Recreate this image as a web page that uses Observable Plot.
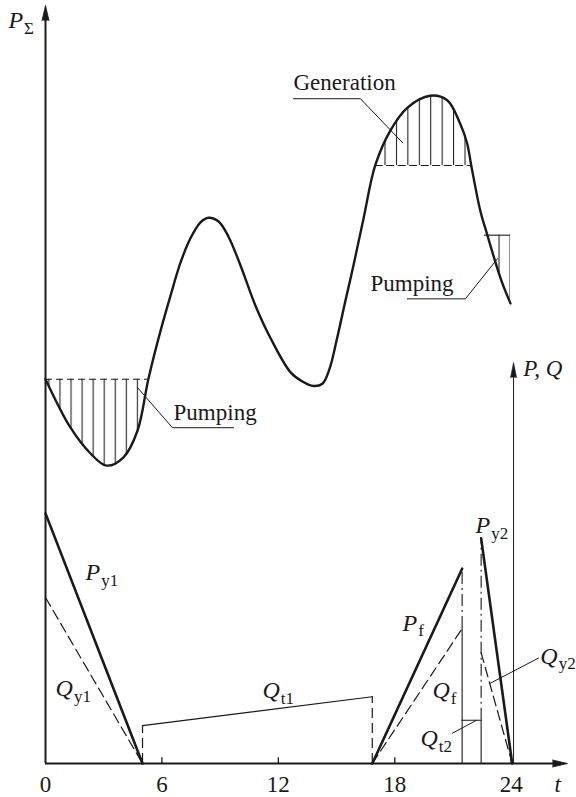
<!DOCTYPE html>
<html>
<head>
<meta charset="utf-8">
<script src="https://cdn.jsdelivr.net/npm/d3@7"></script>
<script src="https://cdn.jsdelivr.net/npm/@observablehq/plot@0.6"></script>
<style>
  html, body { margin: 0; padding: 0; background: #fff; }
  #chart svg { display: block; }
  #chart svg text { font-family: "Liberation Serif", "Times New Roman", serif; }
</style>
</head>
<body>
<div id="chart"></div>
<script>
// Hours of the day shown on the time axis
const hourTicks = [0, 6, 12, 18, 24];

// Total system load P_Σ over the day (hour, relative power)
const demandT = [0, 1.29, 2.32, 3.14, 4.02, 4.74, 5.30, 5.93, 6.44, 6.96, 7.47, 7.99, 8.40, 8.92, 9.43, 10.05, 10.82, 11.60, 12.63, 13.24, 13.81, 14.27, 14.64, 15.00, 15.46, 15.87, 16.39, 16.99, 17.77, 18.64, 19.82, 20.70, 21.37, 21.73, 21.94, 22.40, 22.77, 23.19, 23.55, 23.96];
const demandP = [50.7, 44.3, 40.9, 39.3, 40.4, 43.9, 50.7, 57.1, 61.7, 66.1, 69.3, 71.4, 72.0, 71.5, 69.5, 65.7, 60.4, 56.1, 51.6, 50.4, 49.8, 50.1, 52.1, 55.8, 61.1, 65.7, 71.9, 78.9, 83.5, 86.5, 88.1, 87.5, 84.4, 81.8, 78.9, 73.0, 69.7, 66.1, 63.3, 60.7];

// Storage operating zones: level and hour interval
const zoneKind = ["Pumping", "Generation", "Pumping"];
const zoneLevel = [50.7, 78.9, 69.7];
const zoneFrom = [0, 16.99, 22.77];
const zoneTo = [5.30, 21.94, 23.96];

// Station power P and flow Q schedules (hour, value)
const Py1 = [[0, 33.0], [5, 0]];
const Qy1 = [[0, 21.9], [5, 0]];
const Qt1 = [[5, 5.0], [16.84, 8.8]];
const Pf = [[16.84, 0], [21.47, 25.7]];
const Qf = [[16.84, 0], [21.47, 17.8]];
const Qt2 = [[21.47, 5.7], [22.45, 5.7]];
const Py2 = [[22.45, 29.7], [24.05, 0]];
const Qy2 = [[22.45, 14.6], [24.05, 0]];

// Symbol labels ("main|subscript") and their anchor points
const symbolText = ["P|Σ", "P|y1", "Q|y1", "Q|t1", "P|f", "Q|f", "Q|t2", "P|y2", "Q|y2"];
const symbolT = [-1.91, 2.06, 0.52, 11.18, 18.40, 19.94, 19.32, 22.16, 25.50];
const symbolV = [98.0, 25.2, 9.9, 9.6, 18.5, 9.6, 3.3, 31.4, 14.2];

// Annotation notes with their leader lines
const noteText = ["Generation", "Pumping", "Pumping"];
const noteT = [12.78, 16.75, 6.60];
const noteV = [89.8, 63.3, 46.3];
const leaderGeneration = [[12.78, 87.7], [16.23, 87.7], [18.40, 81.9]];
const leaderPumpEvening = [[18.65, 61.3], [21.64, 61.3], [23.29, 66.6]];
const leaderPumpNight = [[4.74, 49.6], [6.54, 44.3], [9.69, 44.3]];
const leaderQt2 = [[20.97, 4.0], [22.21, 5.7]];
const leaderQy2 = [[25.40, 13.9], [22.93, 10.6]];

// Axis extents
const timeAxisEnd = 26.9;
const powerAxisTop = 100;
const pqAxisT = 24.12;
const pqAxisTop = 52.9;

const demand = demandT.map((t, i) => ({t, p: demandP[i]}));
const zones = zoneKind.map((kind, i) => ({kind, level: zoneLevel[i], from: zoneFrom[i], to: zoneTo[i], id: `hatch${i}`}));
const pts = (arr) => arr.map(([t, v]) => ({t, v}));
const ink = "#1a1a1a";
const serif = "Liberation Serif, Times New Roman, serif";
const txt = {fill: ink, fontFamily: serif};

const seg = (arr, o) => Plot.line(pts(arr), {x: "t", y: "v", stroke: ink, ...o});
const thick = {strokeWidth: 2.6};
const dashed = {strokeWidth: 1.2, strokeDasharray: "10,5"};
const thin = {strokeWidth: 1.1};
const dashDot = {strokeWidth: 1.1, strokeDasharray: "12,4,2,4"};

const marks = [];

// Hatched storage zones between the load curve and each operating level
zones.forEach((z) => {
  const sub = demand.filter((d) => d.t >= z.from - 1e-9 && d.t <= z.to + 1e-9);
  marks.push(Plot.areaY(sub, {x: "t", y1: () => z.level, y2: "p", curve: "catmull-rom", fill: `url(#${z.id})`}));
});
marks.push(Plot.ruleY([zones[0]], {y: "level", x1: "from", x2: "to", stroke: ink, strokeWidth: 1.1, strokeDasharray: "7,4"}));
marks.push(Plot.ruleY([zones[1]], {y: "level", x1: "from", x2: "to", stroke: ink, strokeWidth: 1.1, strokeDasharray: "8,3.5"}));
marks.push(Plot.ruleY([zones[2]], {y: "level", x1: (d) => d.from - 0.15, x2: "to", stroke: ink, strokeWidth: 1.1}));

// Load curve
marks.push(Plot.line(demand, {x: "t", y: "p", curve: "catmull-rom", stroke: ink, strokeWidth: 2.4}));

// Axes
marks.push(Plot.ruleX([0], {y1: 0, y2: powerAxisTop - 1.5, stroke: ink, strokeWidth: 2}));
marks.push(Plot.ruleY([0], {x1: 0, x2: timeAxisEnd - 0.5, stroke: ink, strokeWidth: 2}));
marks.push(Plot.ruleX([pqAxisT], {y1: 0, y2: pqAxisTop - 1.5, stroke: ink, strokeWidth: 1}));
marks.push(Plot.vector([{x: 0, y: powerAxisTop}], {x: "x", y: "y", length: 15, r: 3.5, rotate: 0, shape: "spike", anchor: "end", fill: ink, fillOpacity: 1, stroke: ink, strokeWidth: 0.8}));
marks.push(Plot.vector([{x: pqAxisT, y: pqAxisTop}], {x: "x", y: "y", length: 15, r: 3, rotate: 0, shape: "spike", anchor: "end", fill: ink, fillOpacity: 1, stroke: ink, strokeWidth: 0.6}));
marks.push(Plot.vector([{x: timeAxisEnd, y: 0}], {x: "x", y: "y", length: 15, r: 3.5, rotate: 90, shape: "spike", anchor: "end", fill: ink, fillOpacity: 1, stroke: ink, strokeWidth: 0.8}));
marks.push(Plot.ruleX(hourTicks.slice(1), {y1: 0, y2: 0.75, stroke: ink, strokeWidth: 1.3}));
marks.push(Plot.text(hourTicks, {x: (d) => d, y: 0, dy: 21, text: (d) => String(d), fontSize: 23, ...txt}));
marks.push(Plot.text(["t"], {x: timeAxisEnd - 0.5, y: 0, dy: 21, text: (d) => d, fontSize: 23, fontStyle: "italic", ...txt}));
marks.push(Plot.text(["P, Q"], {x: pqAxisT + 0.5, y: pqAxisTop - 0.8, text: (d) => d, textAnchor: "start", fontSize: 23, fontStyle: "italic", ...txt}));

// Power and flow schedules
marks.push(seg(Py1, thick));
marks.push(seg(Qy1, dashed));
marks.push(seg(Qt1, thin));
marks.push(Plot.ruleX(pts(Qt1), {x: "t", y1: 0, y2: "v", stroke: ink, ...dashed}));
marks.push(seg(Pf, thick));
marks.push(seg(Qf, dashed));
marks.push(Plot.ruleX([0], {x: Pf[1][0], y1: Qf[1][1], y2: Pf[1][1], stroke: ink, ...dashDot}));
marks.push(Plot.ruleX([0], {x: Pf[1][0], y1: 0, y2: Qf[1][1], stroke: ink, ...thin}));
marks.push(seg(Qt2, thin));
marks.push(Plot.ruleX([0], {x: Qt2[1][0], y1: 0, y2: Qt2[1][1], stroke: ink, ...thin}));
marks.push(Plot.ruleX([0], {x: Qt2[1][0], y1: Qt2[1][1], y2: Py2[0][1], stroke: ink, ...dashDot}));
marks.push(seg(Py2, thick));
marks.push(seg(Qy2, dashed));

// Notes and leaders
[leaderGeneration, leaderPumpEvening, leaderPumpNight, leaderQt2, leaderQy2].forEach((l) => marks.push(seg(l, {strokeWidth: 1})));
marks.push(Plot.text(noteText.map((s, i) => ({s, t: noteT[i], v: noteV[i]})), {x: "t", y: "v", text: "s", textAnchor: "start", fontSize: 23, ...txt}));
marks.push(Plot.text(symbolText.map((s, i) => ({s, t: symbolT[i], v: symbolV[i]})), {x: "t", y: "v", text: "s", textAnchor: "start", fontSize: 24, ...txt}));

const svg = Plot.plot({
  width: 576,
  height: 797,
  marginLeft: 45,
  marginRight: 9,
  marginTop: 5,
  marginBottom: 34,
  x: {domain: [0, timeAxisEnd], axis: null},
  y: {domain: [0, powerAxisTop], axis: null},
  style: {fontFamily: serif, fontSize: "23px", background: "#fff", color: ink, overflow: "visible"},
  marks
});

// Vertical hatching patterns for the storage zones
const hatch = [{id: "hatch0", w: 11.05, off: 4.2}, {id: "hatch1", w: 11.43, off: 7.3}, {id: "hatch2", w: 11, off: 3.5}];
const defs = d3.select(svg).insert("defs", ":first-child");
hatch.forEach((h) => {
  const p = defs.append("pattern").attr("id", h.id).attr("patternUnits", "userSpaceOnUse")
    .attr("x", h.off).attr("y", 0).attr("width", h.w).attr("height", 10);
  p.append("rect").attr("width", h.w).attr("height", 10).attr("fill", "none");
  p.append("line").attr("x1", 0.5).attr("x2", 0.5).attr("y1", 0).attr("y2", 10).attr("stroke", ink).attr("stroke-width", 1.1);
});

// Italic symbol with an upright subscript
d3.select(svg).selectAll("text").each(function () {
  const s = this.textContent;
  if (!s.includes("|")) return;
  const [main, sub] = s.split("|");
  const el = d3.select(this);
  el.text(null);
  el.append("tspan").attr("font-style", "italic").text(main);
  el.append("tspan").attr("font-size", "17px").attr("dy", "0.32em").attr("dx", "1").text(sub);
});

document.getElementById("chart").appendChild(svg);
</script>
</body>
</html>
